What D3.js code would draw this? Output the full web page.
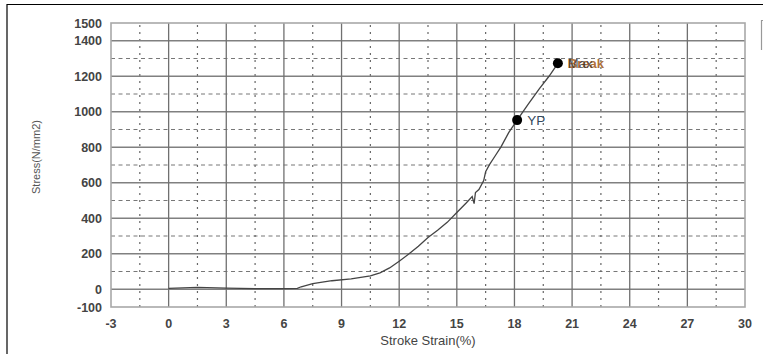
<!DOCTYPE html>
<html>
<head>
<meta charset="utf-8">
<script src="https://cdn.jsdelivr.net/npm/d3@7"></script>
<style>
  body { margin: 0; background: #fff; }
  svg text { font-family: Arial, "Liberation Sans", sans-serif; }
</style>
</head>
<body>
<div id="chart"></div>
<script>
// Stress-strain curve
const strain = [0, 1.5, 3, 4.5, 6, 6.7, 6.9, 7.5, 8.5, 9.5, 10.5, 11, 11.5, 12, 12.5, 13, 13.5, 14, 14.5, 15,
    15.5, 15.8, 15.9, 15.97, 16.15, 16.4, 16.5, 16.7, 17, 17.3, 17.7, 18.14, 18.7, 19.3, 19.8, 20.26];
const stress = [5, 10, 6, 4, 4, 5, 14, 32, 48, 58, 75, 92, 120, 158, 198, 242, 292, 332, 377, 432,
    487, 522, 482, 545, 562, 612, 662, 702, 752, 802, 882, 953, 1040, 1130, 1200, 1273];

const markers = [
    { label: 'YP', x: 18.14, y: 953 },
    { label: 'Max', x: 20.26, y: 1273 }
];

const xTicks = [-3, 0, 3, 6, 9, 12, 15, 18, 21, 24, 27, 30];
const yTicks = [-100, 0, 200, 400, 600, 800, 1000, 1200, 1400, 1500];
const ySolid = [0, 200, 400, 600, 800, 1000, 1200, 1400];
const yDashed = [100, 300, 500, 700, 900, 1100, 1300];
const xSolid = [0, 3, 6, 9, 12, 15, 18, 21, 24, 27];
const xDotted = [-1.5, 1.5, 4.5, 7.5, 10.5, 13.5, 16.5, 19.5, 22.5, 25.5, 28.5];

const width = 763, height = 354;
const svg = d3.select('#chart').append('svg')
    .attr('width', width)
    .attr('height', height);

const x = d3.scaleLinear().domain([-3, 30]).range([111, 745]);
const y = d3.scaleLinear().domain([-100, 1500]).range([307, 23]);

// page frame around the figure
svg.append('line').attr('x1', 7).attr('x2', width).attr('y1', 4.5).attr('y2', 4.5)
    .attr('stroke', '#000').attr('stroke-width', 1.2);
svg.append('line').attr('x1', 7).attr('x2', 7).attr('y1', 4).attr('y2', height)
    .attr('stroke', '#000').attr('stroke-width', 1.2);
svg.append('path').attr('d', 'M763,20.5H761.5V50')
    .attr('fill', 'none').attr('stroke', '#999').attr('stroke-width', 1.2);

const grid = svg.append('g');

// dashed / dotted minor grid
grid.selectAll('.hd').data(yDashed).enter().append('line')
    .attr('x1', x(-3)).attr('x2', x(30))
    .attr('y1', d => y(d)).attr('y2', d => y(d))
    .attr('stroke', '#777').attr('stroke-width', 1)
    .attr('stroke-dasharray', '4,3.5');
grid.selectAll('.vd').data(xDotted).enter().append('line')
    .attr('y1', y(-100)).attr('y2', y(1500))
    .attr('x1', d => x(d)).attr('x2', d => x(d))
    .attr('stroke', '#666').attr('stroke-width', 1.2)
    .attr('stroke-dasharray', '2,5');

// solid major grid
grid.selectAll('.hs').data(ySolid).enter().append('line')
    .attr('x1', x(-3)).attr('x2', x(30))
    .attr('y1', d => y(d)).attr('y2', d => y(d))
    .attr('stroke', '#808080').attr('stroke-width', 1.3);
grid.selectAll('.vs').data(xSolid).enter().append('line')
    .attr('y1', y(-100)).attr('y2', y(1500))
    .attr('x1', d => x(d)).attr('x2', d => x(d))
    .attr('stroke', '#707070').attr('stroke-width', 1.3);

// plot border
grid.append('rect')
    .attr('x', x(-3)).attr('y', y(1500))
    .attr('width', x(30) - x(-3)).attr('height', y(-100) - y(1500))
    .attr('fill', 'none').attr('stroke', '#a8a8a8').attr('stroke-width', 1.6);

// tick labels
svg.append('g').selectAll('text').data(yTicks).enter().append('text')
    .attr('x', 102).attr('y', d => y(d) + 4.5)
    .attr('text-anchor', 'end')
    .attr('font-size', 12.5).attr('font-weight', 'bold').attr('fill', '#444')
    .text(d => d);
svg.append('g').selectAll('text').data(xTicks).enter().append('text')
    .attr('x', d => x(d)).attr('y', 327.5)
    .attr('text-anchor', 'middle')
    .attr('font-size', 12.5).attr('font-weight', 'bold').attr('fill', '#444')
    .text(d => d);

// axis titles
svg.append('text')
    .attr('transform', 'translate(40,157) rotate(-90)')
    .attr('text-anchor', 'middle')
    .attr('font-size', 11).attr('fill', '#555')
    .text('Stress(N/mm2)');
svg.append('text')
    .attr('x', 428).attr('y', 345)
    .attr('text-anchor', 'middle')
    .attr('font-size', 13).attr('fill', '#444')
    .text('Stroke Strain(%)');

// curve
const pts = strain.map((s, i) => [s, stress[i]]);
const line = d3.line().x(d => x(d[0])).y(d => y(d[1]));
svg.append('path').datum(pts)
    .attr('d', line)
    .attr('fill', 'none')
    .attr('stroke', '#444')
    .attr('stroke-width', 1.3);

// markers
svg.selectAll('.mk').data(markers).enter().append('circle')
    .attr('cx', d => x(d.x)).attr('cy', d => y(d.y))
    .attr('r', 5).attr('fill', '#000');

svg.append('text')
    .attr('x', x(18.14) + 10).attr('y', y(953) + 5)
    .attr('font-size', 13.5).attr('fill', '#34495e')
    .text('YP');
// "Break" and "Max" are drawn on top of each other in the original
svg.append('text')
    .attr('x', x(20.26) + 10).attr('y', y(1273) + 5)
    .attr('font-size', 13).attr('font-weight', 'bold').attr('fill', '#b0703a')
    .text('Break');
svg.append('text')
    .attr('x', x(20.26) + 10).attr('y', y(1273) + 5)
    .attr('font-size', 13).attr('fill', '#333').attr('opacity', 0.8)
    .text('Max');
</script>
</body>
</html>
